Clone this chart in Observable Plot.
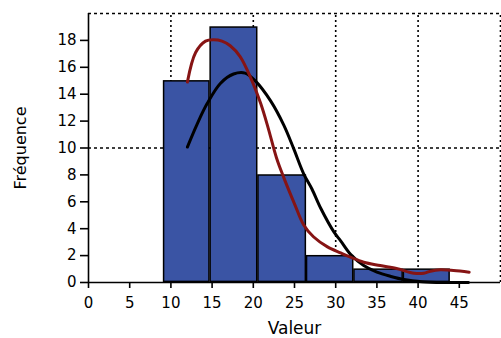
<!DOCTYPE html>
<html>
<head>
<meta charset="utf-8">
<script src="https://cdn.jsdelivr.net/npm/d3@7"></script>
<script src="https://cdn.jsdelivr.net/npm/@observablehq/plot@0.6"></script>
<style>
  html, body { margin: 0; padding: 0; background: #fff; }
  #chart svg { display: block; }
</style>
</head>
<body>
<div id="chart"></div>
<script>
// Histogram bins (edges) and counts
const binEdges = [9.1, 14.75, 20.55, 26.45, 32.2, 38.2, 43.9];
const counts = [15, 19, 8, 2, 1, 1];

// Red smooth (density-like) curve
const redX = [12.0, 13.0, 14.2, 15.2, 16.2, 17.2, 18.4, 19.7, 20.9, 21.8, 22.8, 23.7, 25.0, 26.1, 27.3, 29.0, 30.6, 31.8, 33.4, 35.4, 37.5, 39.5, 40.7, 41.5, 42.7, 44.3, 46.2];
const redY = [14.9, 17.1, 17.95, 18.05, 17.95, 17.6, 16.8, 15.2, 13.3, 11.5, 9.3, 7.8, 5.85, 4.3, 3.4, 2.65, 2.2, 1.88, 1.51, 1.26, 1.02, 0.69, 0.69, 0.84, 0.94, 0.89, 0.77];

// Black fitted curve
const blackX = [12.0, 13.2, 14.4, 16.0, 17.6, 19.0, 20.3, 22.1, 23.7, 24.9, 26.1, 27.1, 28.2, 29.8, 30.6, 31.8, 33.4, 35.0, 36.7, 38.3, 40.5, 43.0, 46.1];
const blackY = [10.07, 11.8, 13.3, 14.8, 15.5, 15.57, 14.95, 13.5, 11.7, 9.95, 8.1, 6.97, 5.5, 3.74, 3.1, 2.1, 1.26, 0.77, 0.45, 0.22, 0.06, 0.0, 0.0];

// Axis ticks and grid
const xTicks = [0, 5, 10, 15, 20, 25, 30, 35, 40, 45];
const yTicks = [0, 2, 4, 6, 8, 10, 12, 14, 16, 18];
const xGrid = [10, 20, 30, 40, 50];
const yGrid = [10, 20];
const xLabel = "Valeur";
const yLabel = "Fréquence";

const bars = counts.map((c, i) => ({x1: binEdges[i], x2: binEdges[i + 1], count: c}));
const red = redX.map((x, i) => ({x, y: redY[i]}));
const black = blackX.map((x, i) => ({x, y: blackY[i]}));

const font = "DejaVu Sans, sans-serif";

const chart = Plot.plot({
  width: 501,
  height: 338,
  marginLeft: 88,
  marginRight: 1,
  marginTop: 13,
  marginBottom: 56,
  style: {fontFamily: font, fontSize: "15px", background: "#fff", color: "#000"},
  x: {domain: [0, 50]},
  y: {domain: [0, 20]},
  marks: [
    Plot.ruleX(xGrid, {y1: 0, y2: 20, stroke: "#000", strokeWidth: 1.6, strokeDasharray: "2,3"}),
    Plot.ruleY(yGrid, {x1: 0, x2: 50, stroke: "#000", strokeWidth: 1.6, strokeDasharray: "3,3"}),
    Plot.rectY(bars, {x1: "x1", x2: "x2", y1: 0, y2: "count", fill: "#3a54a4", stroke: "#000", strokeWidth: 1.5, inset: 0.6}),
    Plot.line(black, {x: "x", y: "y", stroke: "#000", strokeWidth: 3, curve: "catmull-rom"}),
    Plot.line(red, {x: "x", y: "y", stroke: "#861414", strokeWidth: 3, curve: "catmull-rom"}),
    Plot.ruleX([0], {y1: 0, y2: 20, stroke: "#000", strokeWidth: 1.6}),
    Plot.ruleY([0], {x1: 0, x2: 50, stroke: "#000", strokeWidth: 1.6}),
    Plot.axisY({ticks: yTicks, tickSize: 8, tickPadding: 4, strokeWidth: 1.6, fontSize: 15, label: null}),
    Plot.axisX({ticks: xTicks, tickSize: 6, tickPadding: 9, strokeWidth: 1.6, fontSize: 15, label: null}),
    Plot.text([xLabel], {frameAnchor: "bottom", dy: 46, lineAnchor: "middle", textAnchor: "middle", fontSize: 17, fill: "#000"}),
    Plot.text([yLabel], {frameAnchor: "left", dx: -68, rotate: -90, textAnchor: "middle", lineAnchor: "middle", fontSize: 16, fill: "#000"})
  ]
});
document.getElementById("chart").appendChild(chart);
</script>
</body>
</html>
